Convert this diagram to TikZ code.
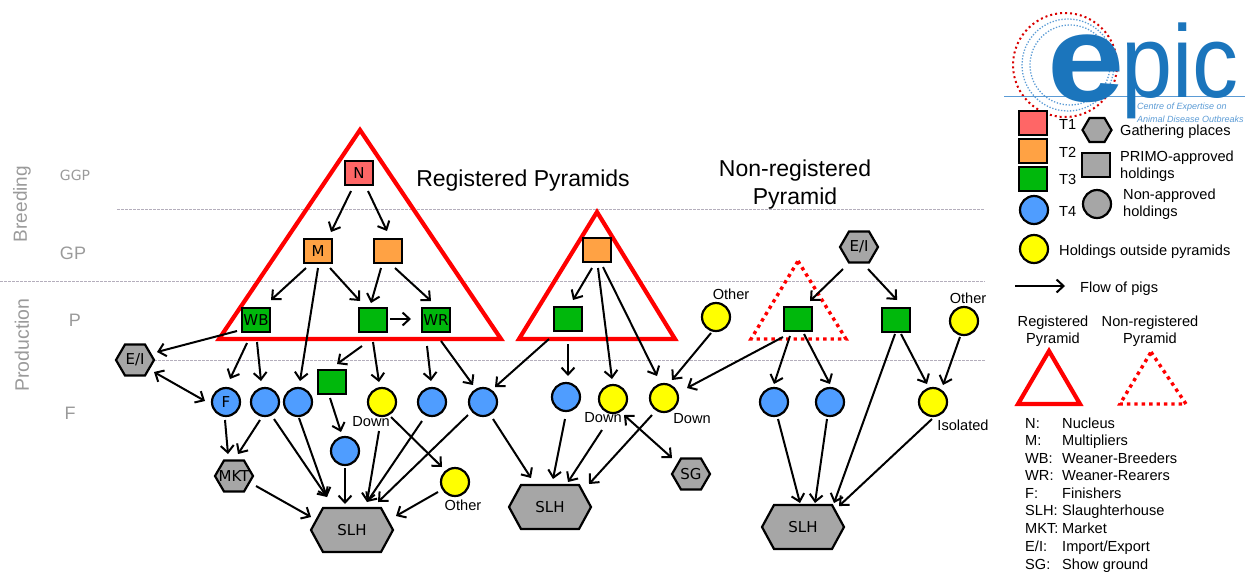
\documentclass[tikz,border=0pt]{standalone}
\usepackage{fontspec}
\setmainfont{Liberation Sans}
\newfontfamily\nodefont{DejaVu Sans}
\usetikzlibrary{arrows.meta,calc}
\definecolor{tone}{HTML}{FF6666}
\definecolor{ttwo}{HTML}{FFA244}
\definecolor{tthree}{HTML}{00B80C}
\definecolor{tfour}{HTML}{4F9DFF}
\definecolor{outy}{HTML}{FFFF00}
\definecolor{gplace}{HTML}{A6A6A6}
\definecolor{lvl}{HTML}{B4AEBC}
\definecolor{labgray}{HTML}{9A9A9A}
\definecolor{epicblue}{HTML}{1B75BC}
\definecolor{epiclight}{HTML}{5B9BD5}
\tikzset{
 x=1pt,y=-1pt,
 sq/.style={draw=black,line width=2.2pt,minimum width=28pt,minimum height=24pt,inner sep=0pt,font=\nodefont\fontsize{15}{15}\selectfont},
 T1/.style={sq,fill=tone},T2/.style={sq,fill=ttwo},T3/.style={sq,fill=tthree},
 rnd/.style={circle,draw=black,line width=2.2pt,minimum size=28pt,inner sep=0pt,font=\nodefont\fontsize{15}{15}\selectfont},
 T4/.style={rnd,fill=tfour},Y/.style={rnd,fill=outy},
 hexlab/.style={inner sep=0pt,font=\nodefont\fontsize{15}{15}\selectfont},
 hexline/.style={draw=black,fill=gplace,line width=2.2pt,line join=miter},
 arr/.style={draw=black,line width=2pt,-{Straight Barb[length=7pt,width=13pt,line width=2pt]}},
 arrb/.style={draw=black,line width=2pt,{Straight Barb[length=7pt,width=13pt,line width=2pt]}-{Straight Barb[length=7pt,width=13pt,line width=2pt]}},
 lev/.style={draw=lvl,line width=0.7pt,dash pattern=on 2.5pt off 1.5pt},
 rpyr/.style={draw=red,line width=4.2pt,line join=miter},
 npyr/.style={draw=red,line width=3.4pt,dash pattern=on 3.4pt off 4pt},
 lab/.style={inner sep=0pt,font=\fontsize{14.6}{17.5}\selectfont,align=center},
 labl/.style={lab,anchor=west,align=left},
 keyl/.style={lab,anchor=base west,align=left},
 title/.style={inner sep=0pt,font=\fontsize{23}{28}\selectfont,align=center},
 lev-lab/.style={inner sep=0pt,text=labgray},
}
% name, x, y, width, height, inset, text
\newcommand{\hexa}[7]{%
 \begin{scope}[shift={(#2,#3)}]
 \draw[hexline] (-#4/2,0) -- (-#4/2+#6,-#5/2) -- (#4/2-#6,-#5/2) -- (#4/2,0) -- (#4/2-#6,#5/2) -- (-#4/2+#6,#5/2) -- cycle;
 \end{scope}
 \node[hexlab,minimum width=#4pt,minimum height=#5pt] (#1) at (#2,#3) {#7};}
% style, from, dx, dy, to, dx, dy
\newcommand{\flow}[7]{\draw[#1] ([shift={(#3,#4)}]#2.center) -- ([shift={(#6,#7)}]#5.center);}
\begin{document}
\begin{tikzpicture}
\useasboundingbox (0,0) rectangle (1249,571);
% logo
\draw[red!85!black,line width=2pt,dash pattern=on 2pt off 3pt] (1065,65) circle (52);
\draw[epiclight,line width=1.3pt,dash pattern=on 1.3pt off 1.7pt] (1068,65) circle (46);
\draw[epiclight,line width=1.3pt,dash pattern=on 1.3pt off 1.7pt] (1070,65) circle (40);
\draw[epiclight,line width=0.8pt] (1004,96) -- (1245,96);
\node[inner sep=0pt,text=epicblue,anchor=base,xscale=1.12,font=\fontsize{124}{124}\selectfont\bfseries] (logoe) at (1086,101) {e};
\node[inner sep=0pt,text=epicblue,anchor=base west,yscale=1.12,font=\fontsize{92}{92}\selectfont] (logop) at (1121,97) {pic};
\node[inner sep=0pt,text=epiclight,anchor=west,font=\fontsize{9}{9}\selectfont\itshape] (logot1) at (1137,107) {Centre of Expertise on};
\node[inner sep=0pt,text=epiclight,anchor=west,font=\fontsize{9}{9}\selectfont\itshape] (logot2) at (1137,119) {Animal Disease Outbreaks};
% level lines
\draw[lev] (117,209) -- (985,209);
\draw[lev] (0,281) -- (985,281);
\draw[lev] (150,360) -- (985,360);
% level labels
\node[lev-lab,rotate=90,font=\fontsize{19}{19}\selectfont] (breeding) at (22,204) {Breeding};
\node[lev-lab,rotate=90,font=\fontsize{19.5}{19.5}\selectfont] (production) at (22,345) {Production};
\node[lev-lab,font=\nodefont\fontsize{14}{14}\selectfont] (ggp) at (75,175) {GGP};
\node[lev-lab,font=\fontsize{18}{18}\selectfont] (gp) at (73,253) {GP};
\node[lev-lab,font=\fontsize{18}{18}\selectfont] (pp) at (75,320) {P};
\node[lev-lab,font=\fontsize{18}{18}\selectfont] (ff) at (70,413) {F};
% pyramids
\draw[rpyr] (360,130) -- (501,339) -- (219,339) -- cycle;
\draw[rpyr] (597,212) -- (675,339) -- (519,339) -- cycle;
\draw[npyr] (798,261) -- (846,339) -- (751,339) -- cycle;
% titles
\node[title] (t1) at (523,181) {Registered Pyramids};
\node[title] (t2) at (795,185) {Non-registered\\Pyramid};
% left group
\node[T1] (N) at (359,173) {N};
\node[T2] (M) at (318,251) {M};
\node[T2] (Mb) at (388,251) {};
\node[T3] (WB) at (256,320) {WB};
\node[T3] (Ga) at (373,320) {};
\node[T3] (WR) at (436,320) {WR};
\node[T3] (Gb) at (332,382) {};
\node[T4] (F) at (226,402) {F};
\node[T4] (B2) at (265,402) {};
\node[T4] (B3) at (298,402) {};
\node[Y] (Yd) at (382,402) {};
\node[T4] (B4) at (432,402) {};
\node[T4] (B5) at (483,402) {};
\node[T4] (B6) at (345,451) {};
\node[Y] (Yo) at (455,482) {};
\hexa{EIa}{135}{360}{38}{31}{9}{E/I}
\hexa{MKT}{234}{476}{38}{31}{9}{MKT}
\hexa{SLHa}{352}{530}{82}{44}{12}{SLH}
% middle group
\node[T2] (Ob) at (597,250) {};
\node[T3] (Gc) at (568,319) {};
\node[T4] (Bc) at (566,397) {};
\node[Y] (Ye) at (613,399) {};
\node[Y] (Yf) at (664,398) {};
\node[Y] (Yg) at (716,317) {};
\hexa{SG}{691}{474}{38}{31}{9}{SG}
\hexa{SLHb}{550}{507}{82}{44}{12}{SLH}
% right group
\node[T3] (Gd) at (798,319) {};
\hexa{EIb}{859}{247}{38}{31}{9}{E/I}
\node[T3] (Ge) at (896,320) {};
\node[Y] (Yh) at (964,321) {};
\node[T4] (Bd) at (774,402) {};
\node[T4] (Be) at (830,402) {};
\node[Y] (Yi) at (933,402) {};
\hexa{SLHc}{803}{527}{82}{44}{12}{SLH}
% small labels
\node[lab] (l1) at (371,422) {Down};
\node[lab] (l2) at (463,505) {Other};
\node[lab] (l3) at (603,418) {Down};
\node[lab] (l4) at (692,419) {Down};
\node[lab] (l5) at (731,294) {Other};
\node[lab] (l6) at (968,298) {Other};
\node[lab] (l7) at (963,425) {Isolated};
% arrows
\flow{arr}{N}{-8}{18}{M}{13}{-19}
\flow{arr}{N}{9}{18}{Mb}{-1}{-20}
\flow{arr}{M}{-12}{17}{WB}{15}{-20}
\flow{arr}{M}{0}{17}{B3}{2}{-21}
\flow{arr}{Mb}{-7}{17}{Ga}{-2}{-17}
\flow{arr}{M}{12}{17}{Ga}{-13}{-19}
\flow{arr}{Mb}{7}{17}{WR}{-5}{-19}
\flow{arr}{Ga}{17}{-1}{WR}{-25}{-1}
\flow{arr}{WB}{-19}{11}{EIa}{22}{-8}
\flow{arr}{WB}{-9}{23}{F}{4}{-23}
\flow{arr}{WB}{1}{22}{B2}{-4}{-21}
\flow{arr}{Ga}{-11}{26}{Gb}{5}{-18}
\flow{arr}{Ga}{0}{22}{Yd}{-3}{-20}
\flow{arr}{WR}{-9}{26}{B4}{-1}{-21}
\flow{arr}{WR}{5}{21}{B5}{-10}{-17}
\flow{arr}{Gc}{-19}{20}{B5}{12}{-15}
\flow{arrb}{F}{-21}{-1}{EIa}{19}{12}
\flow{arr}{F}{-1}{18}{MKT}{-6}{-22}
\flow{arr}{B2}{-5}{18}{MKT}{4}{-22}
\flow{arr}{B2}{9}{17}{SLHa}{-25}{-33}
\flow{arr}{B3}{1}{16}{SLHa}{-25}{-33}
\flow{arr}{Gb}{-2}{16}{B6}{-4}{-19}
\flow{arr}{B6}{0}{17}{SLHa}{-7}{-26}
\flow{arr}{Yd}{-3}{29}{SLHa}{15}{-28}
\flow{arr}{B4}{-10}{19}{SLHa}{15}{-28}
\flow{arr}{B5}{-15}{13}{SLHa}{26}{-28}
\flow{arr}{Yd}{9}{15}{Yo}{-13}{-15}
\flow{arr}{Yo}{-17}{10}{SLHa}{44}{-14}
\flow{arr}{MKT}{22}{10}{SLHa}{-41}{-13}
\flow{arr}{B5}{10}{17}{SLHb}{-19}{-29}
\flow{arr}{Ob}{-5}{18}{Gc}{5}{-19}
\flow{arr}{Ob}{1}{18}{Ye}{-1}{-20}
\flow{arr}{Ob}{6}{17}{Yf}{-7}{-22}
\flow{arr}{Gc}{0}{25}{Bc}{2}{-21}
\flow{arr}{Yg}{-5}{16}{Yf}{8}{-18}
\flow{arr}{Gd}{-15}{18}{Yf}{23}{-10}
\flow{arr}{Bc}{-1}{22}{SLHb}{3}{-28}
\flow{arr}{Ye}{-11}{31}{SLHb}{18}{-25}
\flow{arr}{Yf}{-12}{17}{SLHb}{39}{-23}
\flow{arrb}{Ye}{11}{16}{SG}{-19}{-16}
\flow{arr}{EIb}{-16}{22}{Gd}{12}{-18}
\flow{arr}{EIb}{9}{22}{Ge}{1}{-20}
\flow{arr}{Gd}{-8}{17}{Bd}{0}{-18}
\flow{arr}{Gd}{6}{15}{Be}{0}{-18}
\flow{arr}{Ge}{5}{14}{Yi}{-6}{-18}
\flow{arr}{Yh}{-4}{16}{Yi}{10}{-17}
\flow{arr}{Ge}{-1}{14}{SLHc}{31}{-24}
\flow{arr}{Yi}{-1}{17}{SLHc}{36}{-21}
\flow{arr}{Bd}{4}{17}{SLHc}{-3}{-24}
\flow{arr}{Be}{-3}{17}{SLHc}{12}{-24}
% legend
\node[T1] (k1) at (1033,123) {};
\node[T2] (k2) at (1033,151) {};
\node[T3] (k3) at (1033,179) {};
\node[T4] (k4) at (1034,210) {};
\node[Y] (k5) at (1034,249) {};
\hexa{k6}{1097}{130}{29}{24}{7}{}
\node[sq,fill=gplace] (k7) at (1096,165) {};
\node[rnd,fill=gplace] (k8) at (1097,204) {};
\node[keyl] (n1) at (1059,129) {T1};
\node[keyl] (n2) at (1059,157) {T2};
\node[keyl] (n3) at (1059,184) {T3};
\node[keyl] (n4) at (1059,216) {T4};
\node[keyl] (n5) at (1120,135) {Gathering places};
\node[labl] (n6) at (1120,166) {PRIMO-approved\\holdings};
\node[labl] (n7) at (1123,204) {Non-approved\\holdings};
\node[keyl] (n8) at (1059,255) {Holdings outside pyramids};
\coordinate (fa) at (1015,286);
\coordinate (fb) at (1065,286);
\draw[arr] (fa) -- (fb);
\node[keyl] (n9) at (1080,292) {Flow of pigs};
\node[lab] (n10) at (1053,331) {Registered\\Pyramid};
\node[lab] (n11) at (1150,331) {Non-registered\\Pyramid};
\draw[rpyr] (1049,351) -- (1080,404) -- (1018,404) -- cycle;
\draw[npyr] (1151,352) -- (1186,404) -- (1120,404) -- cycle;
\foreach \yy/\aa/\bb in {428/N:/Nucleus,445/M:/Multipliers,463/WB:/Weaner-Breeders,480/WR:/Weaner-Rearers,498/F:/Finishers,515/SLH:/Slaughterhouse,533/MKT:/Market,551/E\slash I:/Import\slash Export,569/SG:/Show ground}{
 \node[keyl] at (1025,\yy) {\aa};
 \node[keyl] at (1062,\yy) {\bb};
}
\end{tikzpicture}
\end{document}
